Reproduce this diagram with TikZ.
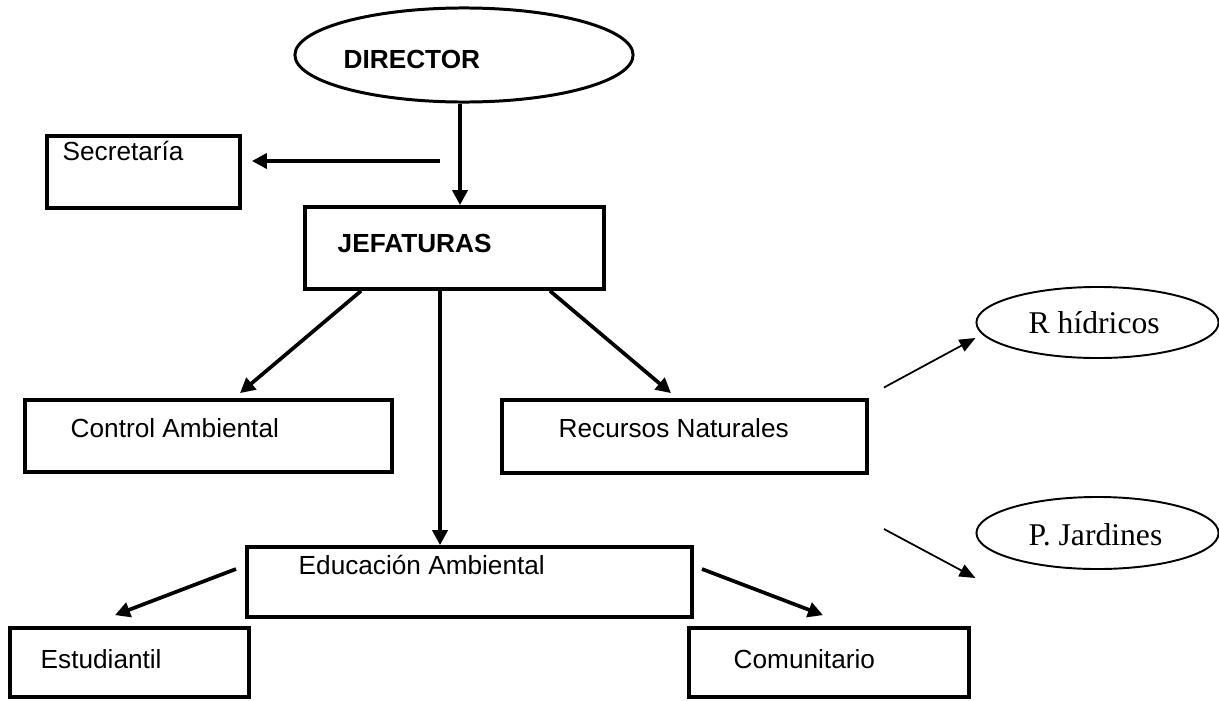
\documentclass[tikz,border=0pt]{standalone}
\usepackage{fontspec}
\setmainfont{Liberation Sans}
\newfontfamily\tnr{Liberation Serif}
\usetikzlibrary{arrows.meta,calc,shapes.geometric}
\begin{document}
\begin{tikzpicture}[x=0.01cm,y=-0.01cm,
  box/.style={draw,rectangle,line width=1.05pt,inner sep=0pt},
  oval/.style={draw,ellipse,line width=0.55pt,inner sep=0pt},
  bigoval/.style={draw,ellipse,line width=0.85pt,inner sep=0pt},
  txt/.style={anchor=base west,inner sep=0pt,font=\fontsize{7.45}{9}\selectfont},
  btxt/.style={txt,font=\fontsize{7.45}{9}\selectfont\bfseries},
  stxt/.style={anchor=base west,inner sep=0pt,font=\fontsize{9}{11}\selectfont\tnr},
  arr/.style={line width=1.05pt,-{Triangle[length=0.15cm,width=0.15cm]}},
  thinarr/.style={line width=0.5pt,-{Triangle[length=0.16cm,width=0.13cm]}}]
\useasboundingbox (0,0) rectangle (1219,700);

% shapes
\node[bigoval,minimum width=3.38cm,minimum height=0.94cm] (dir) at (464,55) {};
\node[box,minimum width=1.93cm,minimum height=0.72cm] (sec) at (143.5,172) {};
\node[box,minimum width=2.99cm,minimum height=0.82cm] (jef) at (454.5,248) {};
\node[box,minimum width=3.67cm,minimum height=0.72cm] (ctrl) at (208.5,436) {};
\node[box,minimum width=3.65cm,minimum height=0.73cm] (rec) at (684.5,436.5) {};
\node[box,minimum width=4.45cm,minimum height=0.70cm] (edu) at (469.5,582) {};
\node[box,minimum width=2.39cm,minimum height=0.69cm] (est) at (129.5,662.5) {};
\node[box,minimum width=2.80cm,minimum height=0.69cm] (com) at (829,662.5) {};
\node[oval,minimum width=2.42cm,minimum height=0.71cm] (rh) at (1097.5,322.5) {};
\node[oval,minimum width=2.42cm,minimum height=0.72cm] (pj) at (1097.5,533) {};

% texts
\node[btxt] (tdir) at (343,68) {DIRECTOR};
\node[txt] (tsec) at (62,160) {Secretaría};
\node[btxt] (tjef) at (337,252) {JEFATURAS};
\node[txt] (tctrl) at (70,437) {Control Ambiental};
\node[txt] (trec) at (558,437) {Recursos Naturales};
\node[stxt] (trh) at (1028,333) {R hídricos};
\node[stxt] (tpj) at (1028,545) {P. Jardines};
\node[txt] (tedu) at (298,574) {Educación Ambiental};
\node[txt] (test) at (40,668) {Estudiantil};
\node[txt] (tcom) at (733,668) {Comunitario};

% connectors
\coordinate (s0) at (440,161);
\draw[arr] ($(dir.south)+(-4,0)$) -- ($(jef.north)+(5.5,0)$);
\draw[arr] (s0) -- ($(sec.east)+(10,-11)$);
\draw[arr] ($(jef.south west)+(58,0)$) -- ($(ctrl.north)+(31.5,-5)$);
\draw[arr] ($(jef.south)+(-14.5,0)$) -- ($(edu.north)+(-29.5,0)$);
\draw[arr] ($(jef.south east)+(-56,0)$) -- ($(rec.north)+(-13.5,-5)$);
\draw[thinarr] ($(rec.east)+(15,-49)$) -- ($(rh.west)+(0,15.5)$);
\draw[thinarr] ($(rec.east)+(15,92.5)$) -- ($(pj.west)+(0,45)$);
\draw[arr] ($(edu.west)+(-9,-13)$) -- ($(est.north)+(-14.5,-11)$);
\draw[arr] ($(edu.east)+(8,-13)$) -- ($(com.north)+(-6,-11)$);
\end{tikzpicture}
\end{document}
